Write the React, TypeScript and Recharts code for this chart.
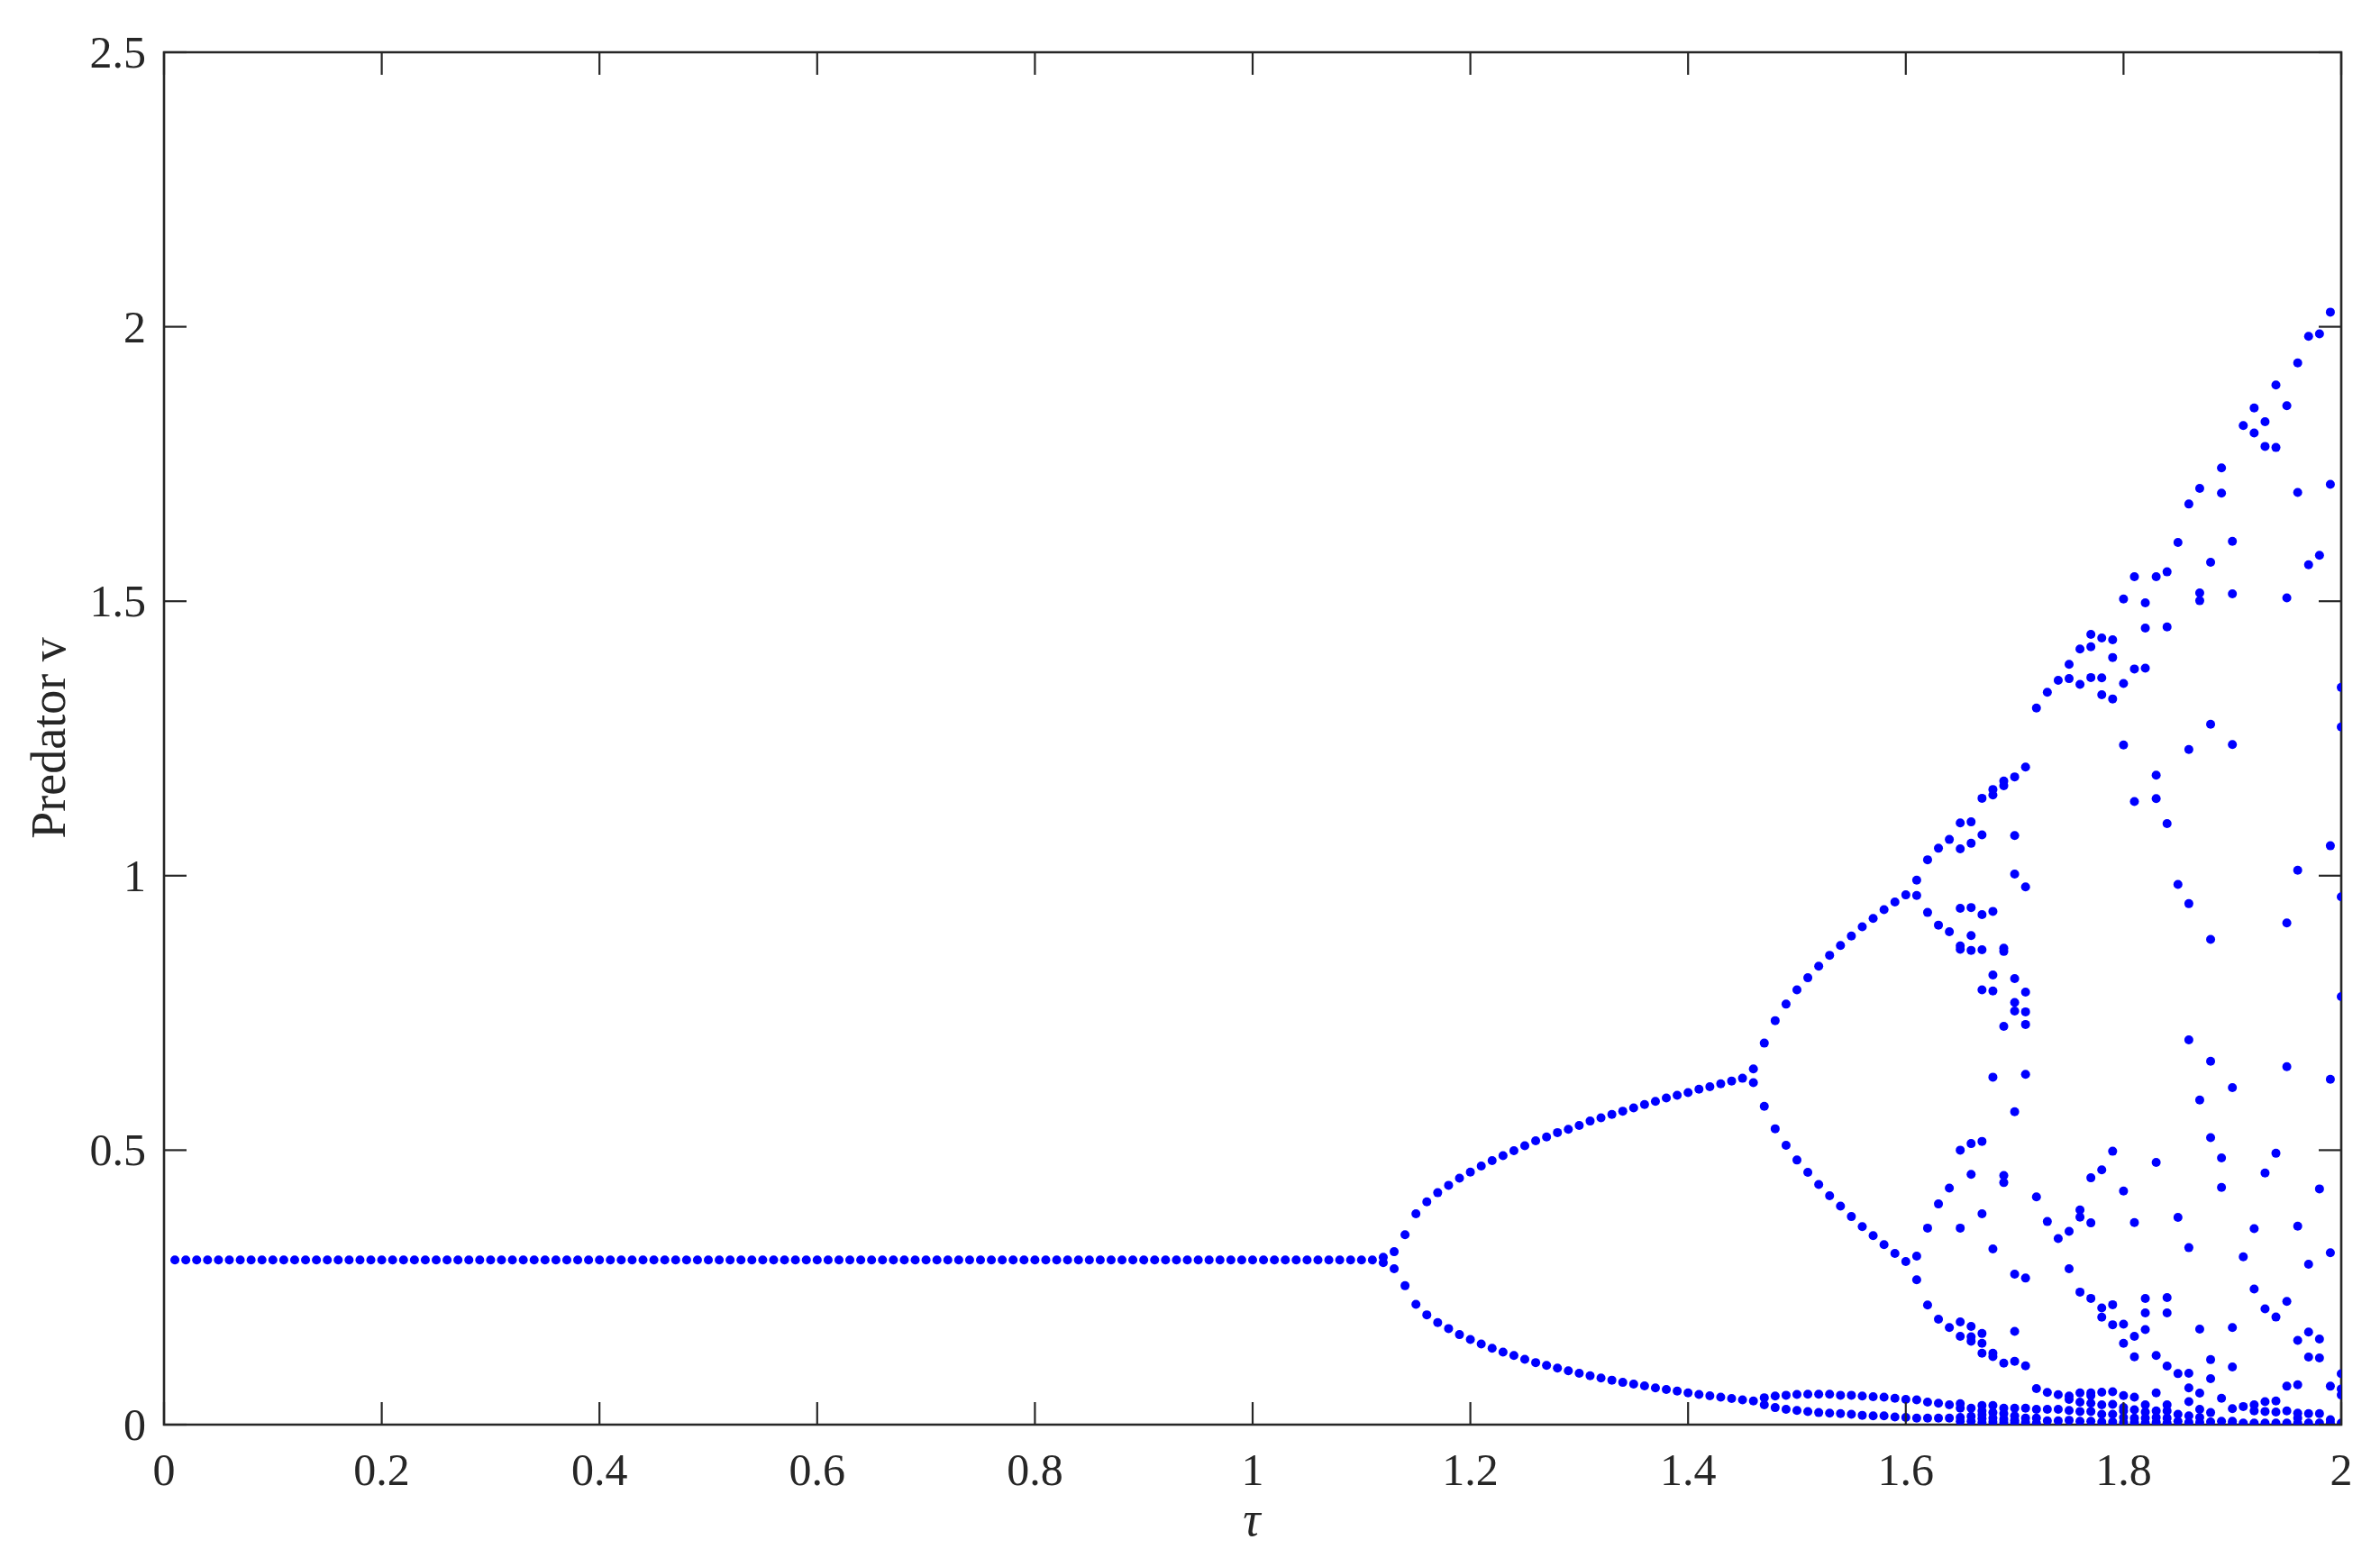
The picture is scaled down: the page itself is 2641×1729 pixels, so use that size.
import React from 'react'
import { ScatterChart, Scatter, XAxis, YAxis, ReferenceArea } from 'recharts'

// each column: tau value and the predator values plotted at that tau
type Column = [number, number[]]

const steadyBranch: Column[] = [
  [0.01, [0.3]], [0.02, [0.3]], [0.03, [0.3]], [0.04, [0.3]], [0.05, [0.3]], [0.06, [0.3]], [0.07, [0.3]], [0.08, [0.3]],
  [0.09, [0.3]], [0.1, [0.3]], [0.11, [0.3]], [0.12, [0.3]], [0.13, [0.3]], [0.14, [0.3]], [0.15, [0.3]], [0.16, [0.3]],
  [0.17, [0.3]], [0.18, [0.3]], [0.19, [0.3]], [0.2, [0.3]], [0.21, [0.3]], [0.22, [0.3]], [0.23, [0.3]], [0.24, [0.3]],
  [0.25, [0.3]], [0.26, [0.3]], [0.27, [0.3]], [0.28, [0.3]], [0.29, [0.3]], [0.3, [0.3]], [0.31, [0.3]], [0.32, [0.3]],
  [0.33, [0.3]], [0.34, [0.3]], [0.35, [0.3]], [0.36, [0.3]], [0.37, [0.3]], [0.38, [0.3]], [0.39, [0.3]], [0.4, [0.3]],
  [0.41, [0.3]], [0.42, [0.3]], [0.43, [0.3]], [0.44, [0.3]], [0.45, [0.3]], [0.46, [0.3]], [0.47, [0.3]], [0.48, [0.3]],
  [0.49, [0.3]], [0.5, [0.3]], [0.51, [0.3]], [0.52, [0.3]], [0.53, [0.3]], [0.54, [0.3]], [0.55, [0.3]], [0.56, [0.3]],
  [0.57, [0.3]], [0.58, [0.3]], [0.59, [0.3]], [0.6, [0.3]], [0.61, [0.3]], [0.62, [0.3]], [0.63, [0.3]], [0.64, [0.3]],
  [0.65, [0.3]], [0.66, [0.3]], [0.67, [0.3]], [0.68, [0.3]], [0.69, [0.3]], [0.7, [0.3]], [0.71, [0.3]], [0.72, [0.3]],
  [0.73, [0.3]], [0.74, [0.3]], [0.75, [0.3]], [0.76, [0.3]], [0.77, [0.3]], [0.78, [0.3]], [0.79, [0.3]], [0.8, [0.3]],
  [0.81, [0.3]], [0.82, [0.3]], [0.83, [0.3]], [0.84, [0.3]], [0.85, [0.3]], [0.86, [0.3]], [0.87, [0.3]], [0.88, [0.3]],
  [0.89, [0.3]], [0.9, [0.3]], [0.91, [0.3]], [0.92, [0.3]], [0.93, [0.3]], [0.94, [0.3]], [0.95, [0.3]], [0.96, [0.3]],
  [0.97, [0.3]], [0.98, [0.3]], [0.99, [0.3]], [1.0, [0.3]], [1.01, [0.3]], [1.02, [0.3]], [1.03, [0.3]], [1.04, [0.3]],
  [1.05, [0.3]], [1.06, [0.3]], [1.07, [0.3]], [1.08, [0.3]], [1.09, [0.3]], [1.1, [0.3]], [1.11, [0.3]], [1.12, [0.305, 0.295]],
]

const period2Branch: Column[] = [
  [1.13, [0.315, 0.284]], [1.14, [0.346, 0.253]], [1.15, [0.384, 0.219]], [1.16, [0.406, 0.2]],
  [1.17, [0.4225, 0.186]], [1.18, [0.436, 0.175]], [1.19, [0.449, 0.164]], [1.2, [0.46, 0.155]],
  [1.21, [0.471, 0.147]], [1.22, [0.481, 0.139]], [1.23, [0.49, 0.132]], [1.24, [0.499, 0.126]],
  [1.25, [0.508, 0.119]], [1.26, [0.517, 0.113]], [1.27, [0.524, 0.108]], [1.28, [0.532, 0.103]],
  [1.29, [0.538, 0.098]], [1.3, [0.545, 0.0935]], [1.31, [0.553, 0.089]], [1.32, [0.559, 0.085]],
  [1.33, [0.565, 0.081]], [1.34, [0.571, 0.077]], [1.35, [0.577, 0.074]], [1.36, [0.583, 0.0705]],
  [1.37, [0.589, 0.067]], [1.38, [0.595, 0.064]], [1.39, [0.6, 0.061]], [1.4, [0.605, 0.058]],
  [1.41, [0.611, 0.055]], [1.42, [0.6155, 0.0525]], [1.43, [0.621, 0.05]], [1.44, [0.626, 0.0476]],
  [1.45, [0.631, 0.045]], [1.46, [0.648, 0.623, 0.043]],
]

const period4Branch: Column[] = [
  [1.47, [0.695, 0.58, 0.049, 0.036]], [1.48, [0.736, 0.539, 0.052, 0.031]],
  [1.49, [0.766, 0.509, 0.0535, 0.028]], [1.5, [0.792, 0.482, 0.055, 0.026]],
  [1.51, [0.814, 0.4596, 0.0555, 0.0237]], [1.52, [0.835, 0.4376, 0.0555, 0.022]],
  [1.53, [0.855, 0.417, 0.0555, 0.021]], [1.54, [0.873, 0.398, 0.0535, 0.02]],
  [1.55, [0.89, 0.379, 0.0535, 0.019]], [1.56, [0.907, 0.3606, 0.052, 0.017]],
  [1.57, [0.922, 0.3444, 0.051, 0.016]], [1.58, [0.938, 0.328, 0.05, 0.016]],
  [1.59, [0.952, 0.312, 0.048, 0.014]], [1.6, [0.965, 0.297, 0.046, 0.013]],
]

const chaoticBranch: Column[] = [
  [1.61, [0.992, 0.964, 0.307, 0.264, 0.045, 0.012]],
  [1.62, [1.029, 0.933, 0.358, 0.218, 0.041, 0.012]],
  [1.63, [1.05, 0.91, 0.402, 0.192, 0.039, 0.012]],
  [1.64, [1.066, 0.898, 0.431, 0.177, 0.036, 0.012]],
  [1.65, [1.096, 1.049, 0.9406, 0.872, 0.866, 0.5, 0.358, 0.187, 0.161, 0.038, 0.03, 0.013, 0.006]],
  [1.66, [1.098, 1.059, 0.942, 0.891, 0.864, 0.512, 0.456, 0.179, 0.16, 0.152, 0.03, 0.015, 0.006]],
  [1.67, [1.141, 1.0745, 0.929, 0.865, 0.792, 0.516, 0.384, 0.166, 0.148, 0.13, 0.035, 0.025, 0.018, 0.011, 0.004]],
  [1.68, [1.157, 1.147, 0.935, 0.819, 0.79, 0.633, 0.32, 0.13, 0.124, 0.035, 0.022, 0.012, 0.005]],
  [1.69, [1.1725, 1.164, 0.868, 0.862, 0.7255, 0.454, 0.441, 0.112, 0.03, 0.02, 0.01, 0.004]],
  [1.7, [1.18, 1.073, 1.003, 0.8125, 0.769, 0.7535, 0.57, 0.274, 0.17, 0.1155, 0.03, 0.016, 0.008, 0.004]],
  [1.71, [1.198, 0.9795, 0.788, 0.752, 0.729, 0.638, 0.267, 0.107, 0.03, 0.012, 0.004]],
  [1.72, [1.3055, 0.415, 0.0657, 0.028, 0.012, 0.003]],
  [1.73, [1.334, 0.37, 0.0586, 0.028, 0.007]],
  [1.74, [1.356, 0.339, 0.0547, 0.028, 0.007]],
  [1.75, [1.385, 1.359, 0.352, 0.284, 0.052, 0.046, 0.026, 0.008]],
  [1.76, [1.413, 1.3485, 0.391, 0.378, 0.2415, 0.058, 0.041, 0.024, 0.006]],
  [1.77, [1.4396, 1.417, 1.361, 0.4496, 0.3675, 0.23, 0.058, 0.053, 0.039, 0.024, 0.006]],
  [1.78, [1.433, 1.3605, 1.3295, 0.464, 0.2127, 0.1957, 0.059, 0.036, 0.019, 0.005]],
  [1.79, [1.4297, 1.3975, 1.322, 0.498, 0.2185, 0.182, 0.06, 0.037, 0.019, 0.005]],
  [1.8, [1.504, 1.35, 1.238, 0.4255, 0.183, 0.148, 0.053, 0.031, 0.025, 0.013, 0.004]],
  [1.81, [1.5447, 1.3766, 1.135, 0.368, 0.161, 0.1236, 0.05, 0.027, 0.012, 0.004]],
  [1.82, [1.497, 1.451, 1.378, 0.2298, 0.2034, 0.1733, 0.036, 0.023, 0.012, 0.003]],
  [1.83, [1.5447, 1.183, 1.1405, 0.4777, 0.126, 0.058, 0.025, 0.013, 0.004]],
  [1.84, [1.5535, 1.453, 1.095, 0.2314, 0.2034, 0.1067, 0.036, 0.025, 0.012, 0.003]],
  [1.85, [1.607, 0.984, 0.3775, 0.093, 0.019, 0.006]],
  [1.86, [1.677, 1.23, 0.949, 0.701, 0.3224, 0.0936, 0.067, 0.042, 0.016, 0.004]],
  [1.87, [1.7054, 1.515, 1.501, 0.5914, 0.174, 0.0574, 0.028, 0.013, 0.004]],
  [1.88, [1.571, 1.276, 0.884, 0.662, 0.5228, 0.1184, 0.0837, 0.022, 0.005]],
  [1.89, [1.743, 1.697, 0.486, 0.432, 0.048, 0.006]],
  [1.9, [1.609, 1.5136, 1.239, 0.614, 0.177, 0.105, 0.029, 0.006, 0.002]],
  [1.91, [1.82, 0.3056, 0.033, 0.003]],
  [1.92, [1.852, 1.8065, 0.357, 0.2469, 0.036, 0.025, 0.003]],
  [1.93, [1.827, 1.782, 0.4585, 0.211, 0.042, 0.024, 0.003]],
  [1.94, [1.894, 1.78, 0.4943, 0.196, 0.043, 0.023, 0.003]],
  [1.95, [1.856, 1.506, 0.914, 0.652, 0.2245, 0.07, 0.025, 0.003]],
  [1.96, [1.934, 1.698, 1.01, 0.3616, 0.1536, 0.0725, 0.021, 0.012, 0.003]],
  [1.97, [1.9825, 1.5665, 0.2923, 0.1686, 0.123, 0.02, 0.003]],
  [1.98, [1.987, 1.5835, 0.4294, 0.156, 0.1216, 0.02, 0.003]],
  [1.99, [2.0266, 1.713, 1.0545, 0.629, 0.313, 0.07, 0.009, 0.003]],
  [2.0, [1.343, 1.271, 0.9616, 0.7797, 0.0926, 0.065, 0.054, 0.003]],
]

const xTicks = [0, 0.2, 0.4, 0.6, 0.8, 1, 1.2, 1.4, 1.6, 1.8, 2]
const yTicks = [0, 0.5, 1, 1.5, 2, 2.5]

const points = [...steadyBranch, ...period2Branch, ...period4Branch, ...chaoticBranch].flatMap(
  ([tau, vs]) => vs.map((v) => ({ tau, v }))
)

const W = 2625
const H = 1713
// plot box in chart coords
const PL = 174
const PR = 2590
const PT = 50
const PB = 1573
const TICK = 25
const INK = '#262626'
const FONT = 'Liberation Serif, Times New Roman, serif'

function XTick(props: any) {
  const { x, payload } = props
  return (
    <g>
      <line x1={x} x2={x} y1={PB} y2={PB - TICK} stroke={INK} strokeWidth={2.2} />
      <line x1={x} x2={x} y1={PT} y2={PT + TICK} stroke={INK} strokeWidth={2.2} />
      <text x={x} y={PB + 67} textAnchor="middle" fill={INK} fontSize={50} fontFamily={FONT}>
        {String(payload.value)}
      </text>
    </g>
  )
}

function YTick(props: any) {
  const { y, payload } = props
  return (
    <g>
      <line x1={PL} x2={PL + TICK} y1={y} y2={y} stroke={INK} strokeWidth={2.2} />
      <line x1={PR} x2={PR - TICK} y1={y} y2={y} stroke={INK} strokeWidth={2.2} />
      <text x={PL - 20} y={y + 17} textAnchor="end" fill={INK} fontSize={50} fontFamily={FONT}>
        {String(payload.value)}
      </text>
    </g>
  )
}

function Dot(props: any) {
  return <circle cx={props.cx} cy={props.cy} r={5} fill="#0000ff" />
}

export default function App() {
  return (
    <div style={{ position: 'relative', width: W, height: H }}>
      <ScatterChart
        width={W}
        height={H}
        margin={{ top: PT, right: W - PR, left: PL - 100, bottom: H - PB - 100 }}
      >
        <XAxis
          type="number"
          dataKey="tau"
          domain={[0, 2]}
          ticks={xTicks}
          interval={0}
          allowDataOverflow
          height={100}
          tickSize={0}
          tickMargin={0}
          tickLine={false}
          axisLine={false}
          tick={<XTick />}
        />
        <YAxis
          type="number"
          dataKey="v"
          domain={[0, 2.5]}
          ticks={yTicks}
          interval={0}
          allowDataOverflow
          width={100}
          tickSize={0}
          tickMargin={0}
          tickLine={false}
          axisLine={false}
          tick={<YTick />}
        />
        <ReferenceArea
          x1={0}
          x2={2}
          y1={0}
          y2={2.5}
          fill="none"
          fillOpacity={0}
          stroke={INK}
          strokeWidth={2.6}
          ifOverflow="visible"
        />
        <Scatter data={points} shape={<Dot />} isAnimationActive={false} />
      </ScatterChart>
      <svg
        width={W}
        height={H}
        style={{ position: 'absolute', left: 0, top: 0, pointerEvents: 'none' }}
      >
        <text x={1381} y={1696} textAnchor="middle" fontStyle="italic" fontSize={54} fill={INK} fontFamily={FONT}>
          τ
        </text>
        <text
          transform="translate(64, 811) rotate(-90)"
          textAnchor="middle"
          fontSize={54}
          fill={INK}
          fontFamily={FONT}
        >
          Predator v
        </text>
      </svg>
    </div>
  )
}
